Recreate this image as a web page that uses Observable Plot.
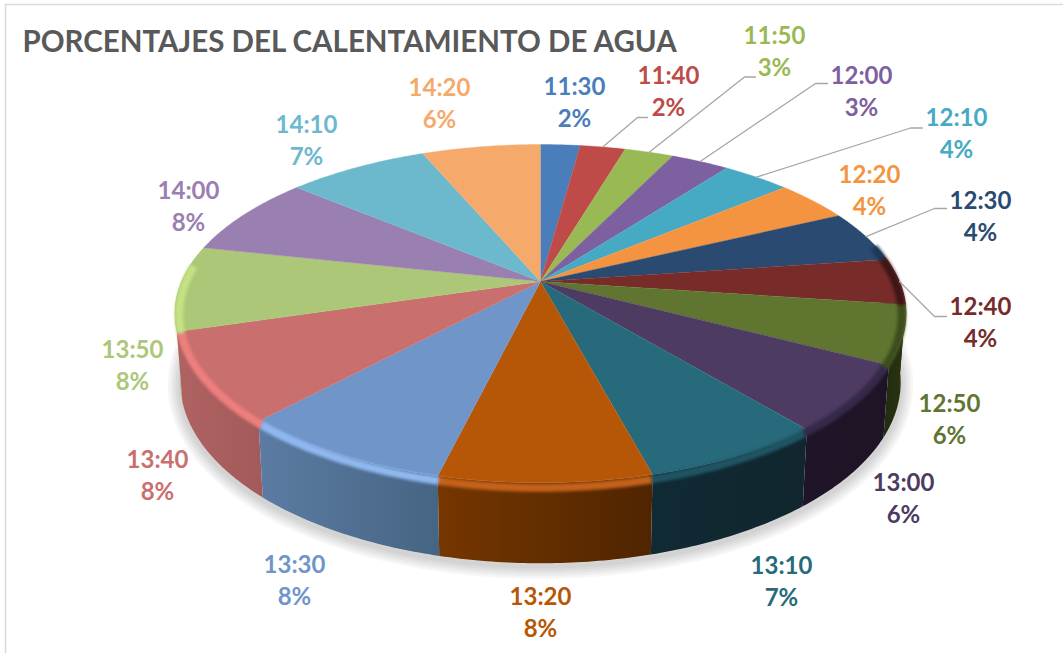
<!DOCTYPE html>
<html>
<head>
<meta charset="utf-8">
<script src="https://cdn.jsdelivr.net/npm/d3@7"></script>
<script src="https://cdn.jsdelivr.net/npm/@observablehq/plot@0.6"></script>
<style>
html,body{margin:0;padding:0;background:#fff}
</style>
</head>
<body>
<div id="chart"></div>
<script>
// ---- data ----
const times  = ["11:30","11:40","11:50","12:00","12:10","12:20","12:30","12:40","12:50","13:00","13:10","13:20","13:30","13:40","13:50","14:00","14:10","14:20"];
const shares = [2.1,2.4,2.6,3.1,3.6,4.0,5.0,4.4,5.55,6.35,6.8,7.85,8.05,8.5,8.15,7.75,7.5,6.3];
const pctLabels = ["2%","2%","3%","3%","4%","4%","4%","4%","6%","6%","7%","8%","8%","8%","8%","8%","7%","6%"];
const title = "PORCENTAJES DEL CALENTAMIENTO DE AGUA";

// ---- styling ----
const faceColors = ["#4a7ebb","#be4b48","#98b954","#7d60a0","#46aac4","#f59440","#2a4a72","#772c2a","#5f7530","#4d3b62","#276a7c","#b65708","#6f95c9","#c96f6e","#acc777","#9980b1","#6cb9ce","#f5a96b"];
const wallPaint = {
  "12:40":["#3a1413","#3a1413"],
  "12:50":["#222b0f","#2a3513"],
  "13:00":["#201528","#1e1426"],
  "13:10":["#102a33","#11262e"],
  "13:20":["#763600","#4f2500"],
  "13:30":["#5b7ba3","#466583"],
  "13:40":["#b06262","#a35a5a"],
  "13:50":["#a5be6e","#a5be6e"]
};
const bevelPaint = {
  "12:30":"#1f3755","12:40":"#3d1716","12:50":"#3d4d1e","13:00":"#35294a","13:10":"#1f5563",
  "13:20":"#c4621a","13:30":"#8fb8f0","13:40":"#ed7f7e","13:50":"#c5e184"
};
const shadowWidths = [5,10,15,20,25];

// ---- layout of the labels (centre of the two-line label) ----
const labelCentre = [[574,100],[668,89],[774,49],[861,89],[956,131],[869,188],[980,214],[980,320],[949,417],[903,496],[781,579],[540,610],[294,578],[157,473],[132,363],[188,204],[306,138],[439,101]];
const leaderRoute = {
  "11:40":[[637,117],[647,117]],
  "11:50":[[744,76.5],[755,76.5]],
  "12:00":[[815,83],[827,83]],
  "12:10":[[910,127.5],[922,127.5]],
  "12:30":[[934,208],[946,208]],
  "12:40":[[934,316],[946,316]]
};

// ---- perspective projection of the pie disc ----
const apex = [540,281], A = 359, B = 163, C = 0.19;
const total = d3.sum(shares);
const cum = Array.from(d3.cumsum(shares), v => v/total);
const starts = [0, ...cum.slice(0,-1)];
function topPoint(f){
  const t = f*2*Math.PI, den = 1 + C*Math.cos(t);
  return [apex[0]+A*Math.sin(t)/den, apex[1]-B*Math.cos(t)/den];
}
function bottomPoint(f){
  const [x,y] = topPoint(f);
  return [apex[0]+(x-apex[0])*0.985, 347.4+(y-apex[1])*1.07];
}
function arcFractions(a,b){
  const n = Math.max(2,Math.ceil((b-a)/0.002));
  return d3.range(n+1).map(i => a+(b-a)*i/n);
}

const faces = [], walls = [], bevels = [], leaders = [];
times.forEach((name,i)=>{
  const fr = arcFractions(starts[i],cum[i]);
  faces.push({name,x:apex[0],y:apex[1]});
  fr.forEach(f=>{const [x,y]=topPoint(f); faces.push({name,x,y});});
  if (wallPaint[name]){
    const pts = [];
    fr.forEach(f=>{const [x,y]=topPoint(f); pts.push({x,y});});
    fr.slice().reverse().forEach(f=>{const [x,y]=bottomPoint(f); pts.push({x,y});});
    walls.push({name,pts,id:"wall"+i,paint:wallPaint[name],mid:(starts[i]+cum[i])/2});
  }
  if (bevelPaint[name]){
    fr.filter(f=>f>0.215&&f<0.765).forEach(f=>{
      const [x,y]=topPoint(f), t=f*2*Math.PI;
      bevels.push({name,x:x-4.5*Math.sin(t),y:y-5*Math.cos(t)});
    });
  }
  if (leaderRoute[name]){
    const [x,y]=topPoint((starts[i]+cum[i])/2);
    leaders.push({name,x,y});
    leaderRoute[name].forEach(([lx,ly])=>leaders.push({name,x:lx,y:ly}));
  }
});
walls.sort((a,b)=>Math.abs(b.mid-0.5)-Math.abs(a.mid-0.5));
const shadow = arcFractions(0.2,0.8).map(f=>{const [x,y]=bottomPoint(f); return {x:x,y:y+3};});
const labels = times.map((name,i)=>({name,text:name+"\n"+pctLabels[i],x:labelCentre[i][0],y:labelCentre[i][1]}));

const plot = Plot.plot({
  width:1063,height:653,margin:0,
  x:{domain:[0,1063],axis:null},
  y:{domain:[653,0],axis:null},
  color:{domain:times,range:faceColors},
  style:{background:"#fff",fontFamily:"Lato, Carlito, sans-serif"},
  marks:[
    Plot.ruleY([4],{x1:5,x2:1063,stroke:"#d9d9d9",strokeWidth:1.5}),
    Plot.ruleX([5],{y1:4,y2:653,stroke:"#d9d9d9",strokeWidth:1.5}),
    ...shadowWidths.map(w=>Plot.line(shadow,{x:"x",y:"y",stroke:"#000",strokeOpacity:0.035,strokeWidth:w})),
    ...walls.map(w=>Plot.line(w.pts,{x:"x",y:"y",fill:`url(#${w.id})`,stroke:"none"})),
    Plot.line(faces,{x:"x",y:"y",z:"name",fill:"name",stroke:"name",strokeWidth:0.4}),
    Plot.line(bevels,{x:"x",y:"y",z:"name",stroke:d=>bevelPaint[d.name],strokeWidth:8,strokeLinecap:"butt",strokeLinejoin:"round",imageFilter:"blur(1.5px)"}),
    Plot.line(leaders,{x:"x",y:"y",z:"name",stroke:"#a6a6a6",strokeWidth:1.3}),
    Plot.text(labels,{x:"x",y:"y",text:"text",fill:"name",fontSize:24,fontWeight:700,lineHeight:1.36,lineAnchor:"middle",textAnchor:"middle"}),
    Plot.text([title],{x:22,y:42.5,text:d=>d,fill:"#595959",fontSize:29.5,fontWeight:700,textAnchor:"start",lineAnchor:"middle"})
  ]
});
// gradients for the pie's side walls
const defs = d3.select(plot).insert("defs",":first-child");
walls.forEach(w=>{
  const g = defs.append("linearGradient").attr("id",w.id).attr("x1","0").attr("x2","1").attr("y1","0").attr("y2","0");
  g.append("stop").attr("offset","0").attr("stop-color",w.paint[0]);
  g.append("stop").attr("offset","1").attr("stop-color",w.paint[1]);
});
document.getElementById("chart").appendChild(plot);
</script>
</body>
</html>
